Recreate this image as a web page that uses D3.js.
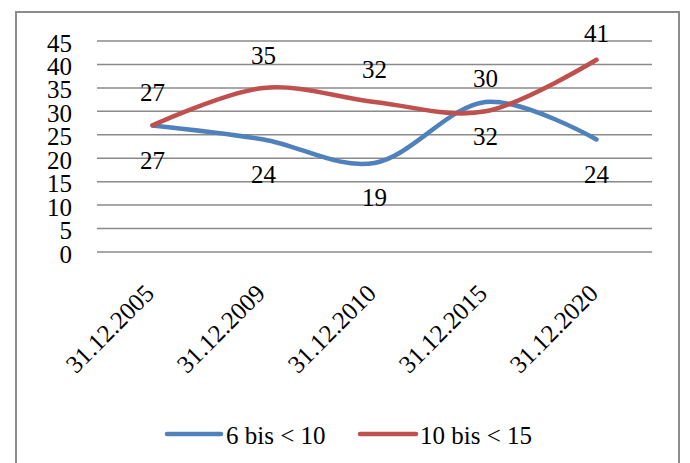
<!DOCTYPE html>
<html>
<head>
<meta charset="utf-8">
<script src="https://cdn.jsdelivr.net/npm/d3@7"></script>
<style>
  html, body { margin: 0; padding: 0; background: #fff; }
  svg { display: block; }
  text { font-family: "Liberation Serif", Tinos, "Times New Roman", Times, "DejaVu Serif", serif; fill: #000; }
</style>
</head>
<body>
<svg id="chart" width="690" height="463"></svg>
<script>
// Reporting dates on the category axis
const categories = ["31.12.2005", "31.12.2009", "31.12.2010", "31.12.2015", "31.12.2020"];
// Series names
const seriesNames = ["6 bis < 10", "10 bis < 15"];
// Values per series
const valuesA = [27, 24, 19, 32, 24];
const valuesB = [27, 35, 32, 30, 41];
// Y-axis ticks
const yTicks = [0, 5, 10, 15, 20, 25, 30, 35, 40, 45];
const colors = ["#4F81BD", "#C0504D"];

const serif = '"Liberation Serif", Tinos, "Times New Roman", Times, "DejaVu Serif", serif';
const svg = d3.select("#chart").style("font-family", serif);
const plot = { left: 97, right: 652, top: 41, bottom: 252 };
const fontSize = 25;

// outer frame
svg.append("rect")
  .attr("x", 16).attr("y", 12)
  .attr("width", 663).attr("height", 470)
  .attr("fill", "none")
  .attr("stroke", "#8c8c8c")
  .attr("stroke-width", 2);

const x = d3.scaleBand().domain(categories).range([plot.left, plot.right]);
const y = d3.scaleLinear().domain([0, 45]).range([plot.bottom, plot.top]);
const cx = c => x(c) + x.bandwidth() / 2;

// horizontal gridlines
svg.append("g").selectAll("line").data(yTicks).join("line")
  .attr("x1", plot.left).attr("x2", plot.right)
  .attr("y1", d => y(d)).attr("y2", d => y(d))
  .attr("stroke", "#8a8a8a").attr("stroke-width", 1.5);

// y-axis labels
const yAxis = d3.axisLeft(y).tickValues(yTicks).tickSize(0).tickPadding(0);
const gy = svg.append("g").attr("transform", `translate(72,0)`).call(yAxis);
gy.attr("font-family", null).attr("font-size", null);
gy.select(".domain").remove();
gy.selectAll("text")
  .style("font-family", serif)
  .attr("font-size", fontSize)
  .attr("fill", "#000")
  .attr("dy", "0.4em");

// x-axis labels, rotated
svg.append("g").selectAll("text").data(categories).join("text")
  .attr("text-anchor", "end")
  .attr("font-size", fontSize)
  .attr("transform", d => `translate(${cx(d) + 3},295) rotate(-45)`)
  .text(d => d);

// series lines
const line = d3.line()
  .x((d, i) => cx(categories[i]))
  .y(d => y(d))
  .curve(d3.curveCardinal.tension(0));

[valuesA, valuesB].forEach((vals, k) => {
  svg.append("path")
    .datum(vals)
    .attr("d", line)
    .attr("fill", "none")
    .attr("stroke", colors[k])
    .attr("stroke-width", 4.5)
    .attr("stroke-linecap", "round")
    .attr("stroke-linejoin", "round");
});

// data labels: first series below, second series above
svg.append("g").selectAll("text").data(valuesA).join("text")
  .attr("text-anchor", "middle")
  .attr("font-size", fontSize)
  .attr("x", (d, i) => cx(categories[i]))
  .attr("y", d => y(d) + 35 + 8.5)
  .text(d => d);

svg.append("g").selectAll("text").data(valuesB).join("text")
  .attr("text-anchor", "middle")
  .attr("font-size", fontSize)
  .attr("x", (d, i) => cx(categories[i]))
  .attr("y", d => Math.max(y(d) - 32.7, 33) + 8.5)
  .text(d => d);

// legend
const legendItems = [
  { name: seriesNames[0], color: colors[0], x0: 167, x1: 221, tx: 226 },
  { name: seriesNames[1], color: colors[1], x0: 360, x1: 416, tx: 420 }
];
const lg = svg.append("g");
legendItems.forEach(it => {
  lg.append("line")
    .attr("x1", it.x0).attr("x2", it.x1)
    .attr("y1", 434).attr("y2", 434)
    .attr("stroke", it.color).attr("stroke-width", 4.5)
    .attr("stroke-linecap", "round");
  lg.append("text")
    .attr("x", it.tx).attr("y", 444)
    .attr("font-size", fontSize)
    .text(it.name);
});
</script>
</body>
</html>
